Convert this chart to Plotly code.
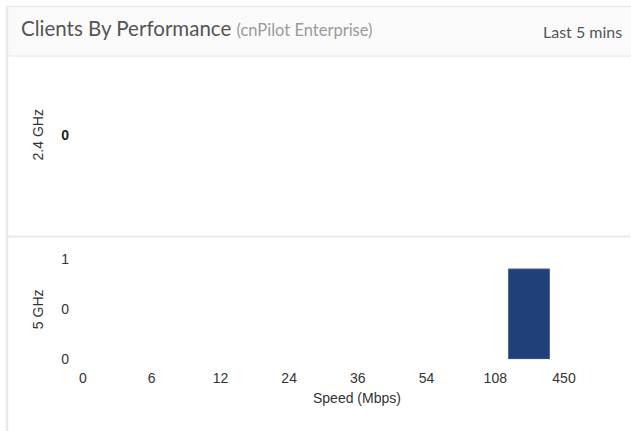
import plotly.graph_objects as go

# Speed bin edges (Mbps) shown along the x axis
speed_edges = ["0", "6", "12", "24", "36", "54", "108", "450"]
# Client counts per speed bin (bin i spans edge i .. edge i+1)
clients_24ghz = [0, 0, 0, 0, 0, 0, 0]
clients_5ghz = [0, 0, 0, 0, 0, 0, 0.9]
# Y tick labels of the 5 GHz panel
y5_tickvals = [0, 0.5, 1]
y5_ticktext = ["0", "0", "1"]

W, H = 631, 431


def px(x):
    return x / W


def py(y):
    return 1 - y / H


BAR_COLOR = "#213f7a"
TEXT = "#333333"
FONT = "Liberation Sans, Arial, sans-serif"
FS = 14
HEAD_FONT = "Lato, 'Open Sans', sans-serif"
BORDER = "#e7eaea"

bin_x = [i + 0.5 for i in range(len(clients_5ghz))]

# x scale: edge index 0 sits at 83px, edge index 7 at 564px
unit = (564 - 83) / 7
x_left, x_right = 70, 622
x_range = [(x_left - 83) / unit, 7 + (x_right - 564) / unit]

fig = go.Figure()

fig.add_trace(go.Bar(
    x=bin_x, y=clients_24ghz, xaxis="x2", yaxis="y2", width=0.6,
    marker=dict(color=BAR_COLOR, line=dict(width=0)),
    showlegend=False, hoverinfo="skip",
))
fig.add_trace(go.Bar(
    x=bin_x, y=clients_5ghz, xaxis="x", yaxis="y", width=0.6,
    marker=dict(color=BAR_COLOR,
                line=dict(color="#4a6498", width=[1 if v > 0 else 0 for v in clients_5ghz])),
    showlegend=False, hoverinfo="skip",
))

y_zero, y_one = 366, 264
y_top = 243
fig.update_layout(
    width=W, height=H,
    margin=dict(l=0, r=0, t=0, b=0),
    paper_bgcolor="white", plot_bgcolor="rgba(0,0,0,0)",
    font=dict(family=FONT, size=FS, color=TEXT),
    bargap=0,
    xaxis=dict(
        domain=[px(x_left), px(x_right)], range=x_range, anchor="y",
        tickvals=list(range(len(speed_edges))), ticktext=speed_edges,
        showgrid=False, zeroline=False, showline=False, ticks="",
        ticklabelstandoff=9, tickfont=dict(size=FS, color=TEXT, family=FONT),
    ),
    yaxis=dict(
        domain=[py(y_zero), py(y_top)],
        range=[0, (y_zero - y_top) / (y_zero - y_one)],
        tickvals=y5_tickvals, ticktext=y5_ticktext,
        showgrid=False, zeroline=False, showline=False, ticks="",
        tickfont=dict(size=FS, color=TEXT, family=FONT),
    ),
    xaxis2=dict(
        domain=[px(x_left), px(x_right)], range=x_range, anchor="y2",
        visible=False,
    ),
    yaxis2=dict(
        domain=[py(216), py(60)], range=[-1, 1],
        tickvals=[0], ticktext=["<b>0</b>"],
        showgrid=False, zeroline=False, showline=False, ticks="",
        tickfont=dict(size=FS, color="#222222", family=FONT),
    ),
)

# Panel frame, header band and divider between the two bands
shapes = [
    dict(type="rect", x0=px(7), x1=px(660), y0=py(57), y1=py(7),
         fillcolor="#fafafa", line=dict(width=0), layer="below"),
    dict(type="line", x0=px(6), x1=px(660), y0=py(6.5), y1=py(6.5),
         line=dict(color=BORDER, width=1.5)),
    dict(type="line", x0=px(7), x1=px(7), y0=py(6), y1=py(440),
         line=dict(color=BORDER, width=2.5)),
    dict(type="line", x0=px(8), x1=px(660), y0=py(57), y1=py(57),
         line=dict(color="#eceeee", width=1.5)),
    dict(type="line", x0=px(8), x1=px(630), y0=py(241), y1=py(241),
         line=dict(color=BORDER, width=2)),
]
for s in shapes:
    s.update(xref="paper", yref="paper")
fig.update_layout(shapes=shapes)

annotations = [
    dict(text="Clients By Performance <span style='font-size:16.5px;color:#9a9a9a'>(cnPilot Enterprise)</span>",
         x=px(19), y=py(29), xanchor="left", yanchor="middle",
         font=dict(family=HEAD_FONT, size=20.5, color="#555555")),
    dict(text="Last 5 mins", x=px(624), y=py(32), xanchor="right", yanchor="middle",
         font=dict(family=HEAD_FONT, size=16, color="#555555")),
    dict(text="2.4 GHz", x=px(38), y=py(138), textangle=-90,
         xanchor="center", yanchor="middle", font=dict(size=FS, color=TEXT, family=FONT)),
    dict(text="5 GHz", x=px(38), y=py(315), textangle=-90,
         xanchor="center", yanchor="middle", font=dict(size=FS, color=TEXT, family=FONT)),
    dict(text="Speed (Mbps)", x=px(357), y=py(406),
         xanchor="center", yanchor="middle", font=dict(size=FS, color=TEXT, family=FONT)),
]
for a in annotations:
    a.update(xref="paper", yref="paper", showarrow=False)
fig.update_layout(annotations=annotations)

fig.write_html("out.html")
